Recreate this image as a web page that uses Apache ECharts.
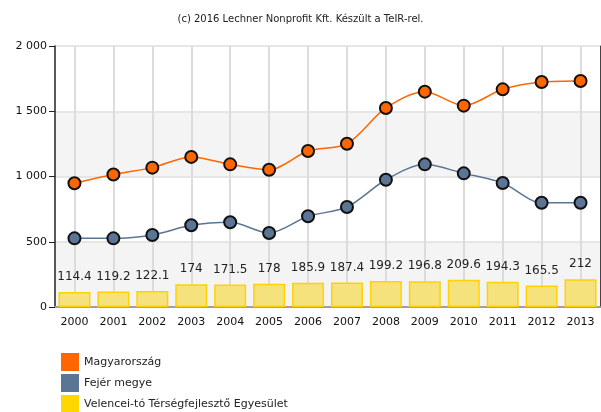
<!DOCTYPE html>
<html>
<head>
<meta charset="utf-8">
<script src="https://cdn.jsdelivr.net/npm/echarts@6/dist/echarts.min.js"></script>
<style>
  html, body { margin: 0; padding: 0; background: #fff; }
  #chart { width: 601px; height: 412px; }
</style>
</head>
<body>
<div id="chart"></div>
<script>
// adatok
const years = ['2000', '2001', '2002', '2003', '2004', '2005', '2006', '2007', '2008', '2009', '2010', '2011', '2012', '2013']
const magyarorszag = [948, 1015, 1068, 1150, 1093, 1052, 1195, 1251, 1525, 1650, 1543, 1668, 1724, 1732]
const fejerMegye = [526, 526, 552, 626, 649, 567, 695, 766, 975, 1093, 1024, 950, 799, 799]
const velencei = [114.4, 119.2, 122.1, 174, 171.5, 178, 185.9, 187.4, 199.2, 196.8, 209.6, 194.3, 165.5, 212]
const yTicks = [0, 500, 1000, 1500, 2000]

const font = 'DejaVu Sans'

const chart = echarts.init(document.getElementById('chart'))

chart.setOption({
  animation: false,
  textStyle: { fontFamily: font },
  title: {
    text: '(c) 2016 Lechner Nonprofit Kft. Készült a TeIR-rel.',
    left: 'center',
    top: 9,
    textStyle: { fontSize: 10, fontWeight: 'normal', color: '#222', fontFamily: font }
  },
  legend: {
    orient: 'vertical',
    left: 56,
    top: 348,
    height: 80,
    itemWidth: 18,
    itemHeight: 18,
    itemGap: 3,
    icon: 'rect',
    textStyle: { fontSize: 11, color: '#222', fontFamily: font },
    data: [
      { name: 'Magyarország', itemStyle: { color: '#ff6600', borderWidth: 0 } },
      { name: 'Fejér megye', itemStyle: { color: '#5b7594', borderWidth: 0 } },
      { name: 'Velencei-tó Térségfejlesztő Egyesület', itemStyle: { color: '#ffd700', borderWidth: 0 } }
    ]
  },
  grid: {
    left: 55,
    right: 1,
    top: 46,
    bottom: 105
  },
  xAxis: [{
    type: 'category',
    data: years,
    axisLine: { lineStyle: { color: '#222', width: 1.5 } },
    axisTick: { alignWithLabel: true, length: 5, lineStyle: { color: '#222' } },
    axisLabel: { fontSize: 11, color: '#111', margin: 10, fontFamily: font },
    splitLine: { show: false }
  }, {
    type: 'category',
    position: 'top',
    data: years,
    axisLine: { lineStyle: { color: '#a0a0a0', width: 2 } },
    axisTick: { show: false },
    axisLabel: { show: false }
  }],
  yAxis: [{
    type: 'value',
    min: yTicks[0],
    max: yTicks[yTicks.length - 1],
    interval: 500,
    axisLine: { show: true, lineStyle: { color: '#222', width: 1.5 } },
    axisTick: { show: true, length: 6, lineStyle: { color: '#222' } },
    axisLabel: {
      fontSize: 11,
      color: '#111',
      margin: 8,
      fontFamily: font,
      formatter: v => String(v).replace(/\B(?=(\d{3})+(?!\d))/g, ' ')
    },
    splitLine: { lineStyle: { color: '#e6e6e6', width: 2 } },
    splitArea: { show: true, areaStyle: { color: ['#f4f4f4', '#ffffff'] } }
  }, {
    type: 'value',
    position: 'right',
    min: yTicks[0],
    max: yTicks[yTicks.length - 1],
    interval: 500,
    axisLine: { show: true, lineStyle: { color: '#444', width: 1 } },
    axisTick: { show: false },
    axisLabel: { show: false },
    splitLine: { show: false }
  }],
  series: [
    {
      name: 'Velencei-tó Térségfejlesztő Egyesület',
      type: 'bar',
      data: velencei,
      barWidth: 32,
      itemStyle: { color: '#f6e27c', borderColor: '#ffd200', borderWidth: 1.5 },
      label: {
        show: true,
        position: 'top',
        distance: 9,
        fontSize: 12,
        color: '#222',
        fontFamily: font
      },
      // függőleges rácsvonalak a kategóriák közepén
      markLine: {
        silent: true,
        z: 1,
        symbol: 'none',
        label: { show: false },
        lineStyle: { color: '#dcdcdc', width: 2, type: 'solid' },
        data: years.map(y => ({ xAxis: y }))
      },
      z: 2
    },
    {
      name: 'Fejér megye',
      type: 'line',
      data: fejerMegye,
      smooth: 0.3,
      symbol: 'circle',
      symbolSize: 12,
      lineStyle: { color: '#5b7594', width: 1.5 },
      itemStyle: { color: '#5b7594', borderColor: '#111', borderWidth: 2 },
      z: 4
    },
    {
      name: 'Magyarország',
      type: 'line',
      data: magyarorszag,
      smooth: 0.3,
      symbol: 'circle',
      symbolSize: 12,
      lineStyle: { color: '#ff6600', width: 1.5 },
      itemStyle: { color: '#ff6600', borderColor: '#111', borderWidth: 2 },
      z: 4
    }
  ]
})
</script>
</body>
</html>
